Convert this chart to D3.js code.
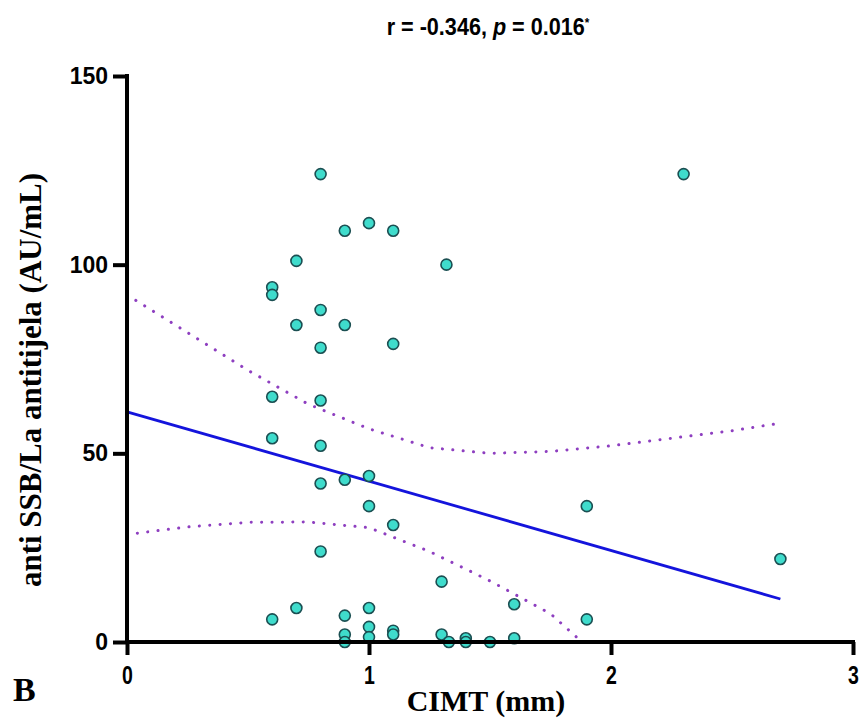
<!DOCTYPE html>
<html><head><meta charset="utf-8">
<script src="https://cdn.jsdelivr.net/npm/d3@7"></script>
<style>body{margin:0;background:#fff}svg{display:block}</style>
</head><body>
<script>
// ---- data ----
const cimt = [0.6,0.6,0.6,0.6,0.6, 0.7,0.7,0.7, 0.8,0.8,0.8,0.8,0.8,0.8,0.8,
  0.9,0.9,0.9,0.9,0.9,0.9, 1.0,1.0,1.0,1.0,1.0,1.0, 1.1,1.1,1.1,1.1,1.1,
  1.3,1.3,1.32,1.33,1.4,1.4,1.5,1.6,1.6,1.9,1.9,2.3,2.7];
const ssb = [94,92,65,54,6, 101,84,9, 124,88,78,64,52,42,24,
  109,84,43,7,2,0, 111,44,36,9,4,1.3, 109,79,31,3,2,
  16,2,100,0,1,0,0,1,10,36,6,124,22];
const fitX = [0, 2.7];
const fitY = [61, 11.4];
const bandX = [0,0.25,0.5,0.75,1.0,1.25,1.5,1.75,2.0,2.25,2.5,2.7];
const upper = [92,82,72,63,56.5,51.5,50,50.5,52,54,56,58];
const lowerX = [0,0.25,0.5,0.75,1.0,1.25,1.5,1.75,1.88];
const lower = [28.5,30.5,31.7,31.8,30.3,24,16.2,7.5,0];
const xTicks = [0,1,2,3];
const yTicks = [0,50,100,150];

const W=861,H=725;
const svg=d3.select("body").append("svg").attr("width",W).attr("height",H);
const x=d3.scaleLinear().domain([0,3]).range([127,853]);
const y=d3.scaleLinear().domain([0,150]).range([642,76]);

// bands
const band=d3.line().x(d=>x(d[0])).y(d=>y(d[1]));
const bandStyle=g=>g.attr("fill","none").attr("stroke","#8e3fc0").attr("stroke-width",3)
  .attr("stroke-linecap","round").attr("stroke-dasharray","0.1,10.3");
svg.append("path").datum(bandX.map((v,i)=>[v,upper[i]])).attr("d",band).call(bandStyle);
svg.append("path").datum(lowerX.map((v,i)=>[v,lower[i]])).attr("d",band).call(bandStyle);

// fit line
svg.append("path").datum(fitX.map((v,i)=>[v,fitY[i]])).attr("d",band)
  .attr("fill","none").attr("stroke","#1414dc").attr("stroke-width",2.8);

// points
svg.append("g").selectAll("circle").data(cimt.map((v,i)=>[v,ssb[i]])).join("circle")
  .attr("cx",d=>x(d[0])).attr("cy",d=>y(d[1])).attr("r",5.5)
  .attr("fill","#3fdccc").attr("stroke","#1b4f52").attr("stroke-width",1.6);

// axes
const yAx=svg.append("g").attr("transform","translate(127,0)")
  .call(d3.axisLeft(y).tickValues(yTicks).tickSize(14).tickSizeOuter(0).tickPadding(5).tickFormat(d3.format("d")));
const xAx=svg.append("g").attr("transform","translate(0,642)")
  .call(d3.axisBottom(x).tickValues(xTicks).tickSize(13).tickSizeOuter(0).tickPadding(11).tickFormat(d3.format("d")));
[yAx,xAx].forEach(a=>{
  a.selectAll("path,line").attr("stroke","#000").attr("stroke-width",4);
  a.selectAll("text").attr("fill","#000").attr("font-family","Liberation Sans, Arial, sans-serif")
   .attr("font-weight","bold");
});
yAx.select("path").attr("d","M0,74V644");
xAx.select("path").attr("d","M125,0H855");
yAx.selectAll("text").attr("font-size",23);
xAx.selectAll("text").attr("font-size",25).attr("transform","scale(0.78,1)");

// titles
svg.append("text").attr("x",486).attr("y",711).attr("text-anchor","middle")
  .attr("font-family","Liberation Serif, Times New Roman, serif").attr("font-weight","bold")
  .attr("font-size",30).text("CIMT (mm)");
svg.append("text").attr("transform","translate(41,380) rotate(-90)").attr("text-anchor","middle")
  .attr("font-family","Liberation Serif, Times New Roman, serif").attr("font-weight","bold")
  .attr("font-size",31).text("anti SSB/La antitijela (AU/mL)");
svg.append("text").attr("x",13).attr("y",701)
  .attr("font-family","Liberation Serif, Times New Roman, serif").attr("font-weight","bold")
  .attr("font-size",34).text("B");

const t=svg.append("text").attr("x",488).attr("y",35).attr("text-anchor","middle")
  .attr("font-family","Liberation Sans, Arial, sans-serif").attr("font-weight","bold")
  .attr("font-size",24).attr("transform","translate(488,0) scale(0.9,1) translate(-488,0)");
t.append("tspan").text("r = -0.346, ");
t.append("tspan").attr("font-style","italic").text("p");
t.append("tspan").text(" = 0.016");
t.append("tspan").attr("font-size",13).attr("dy",-8).text("*");
</script>
</body></html>
